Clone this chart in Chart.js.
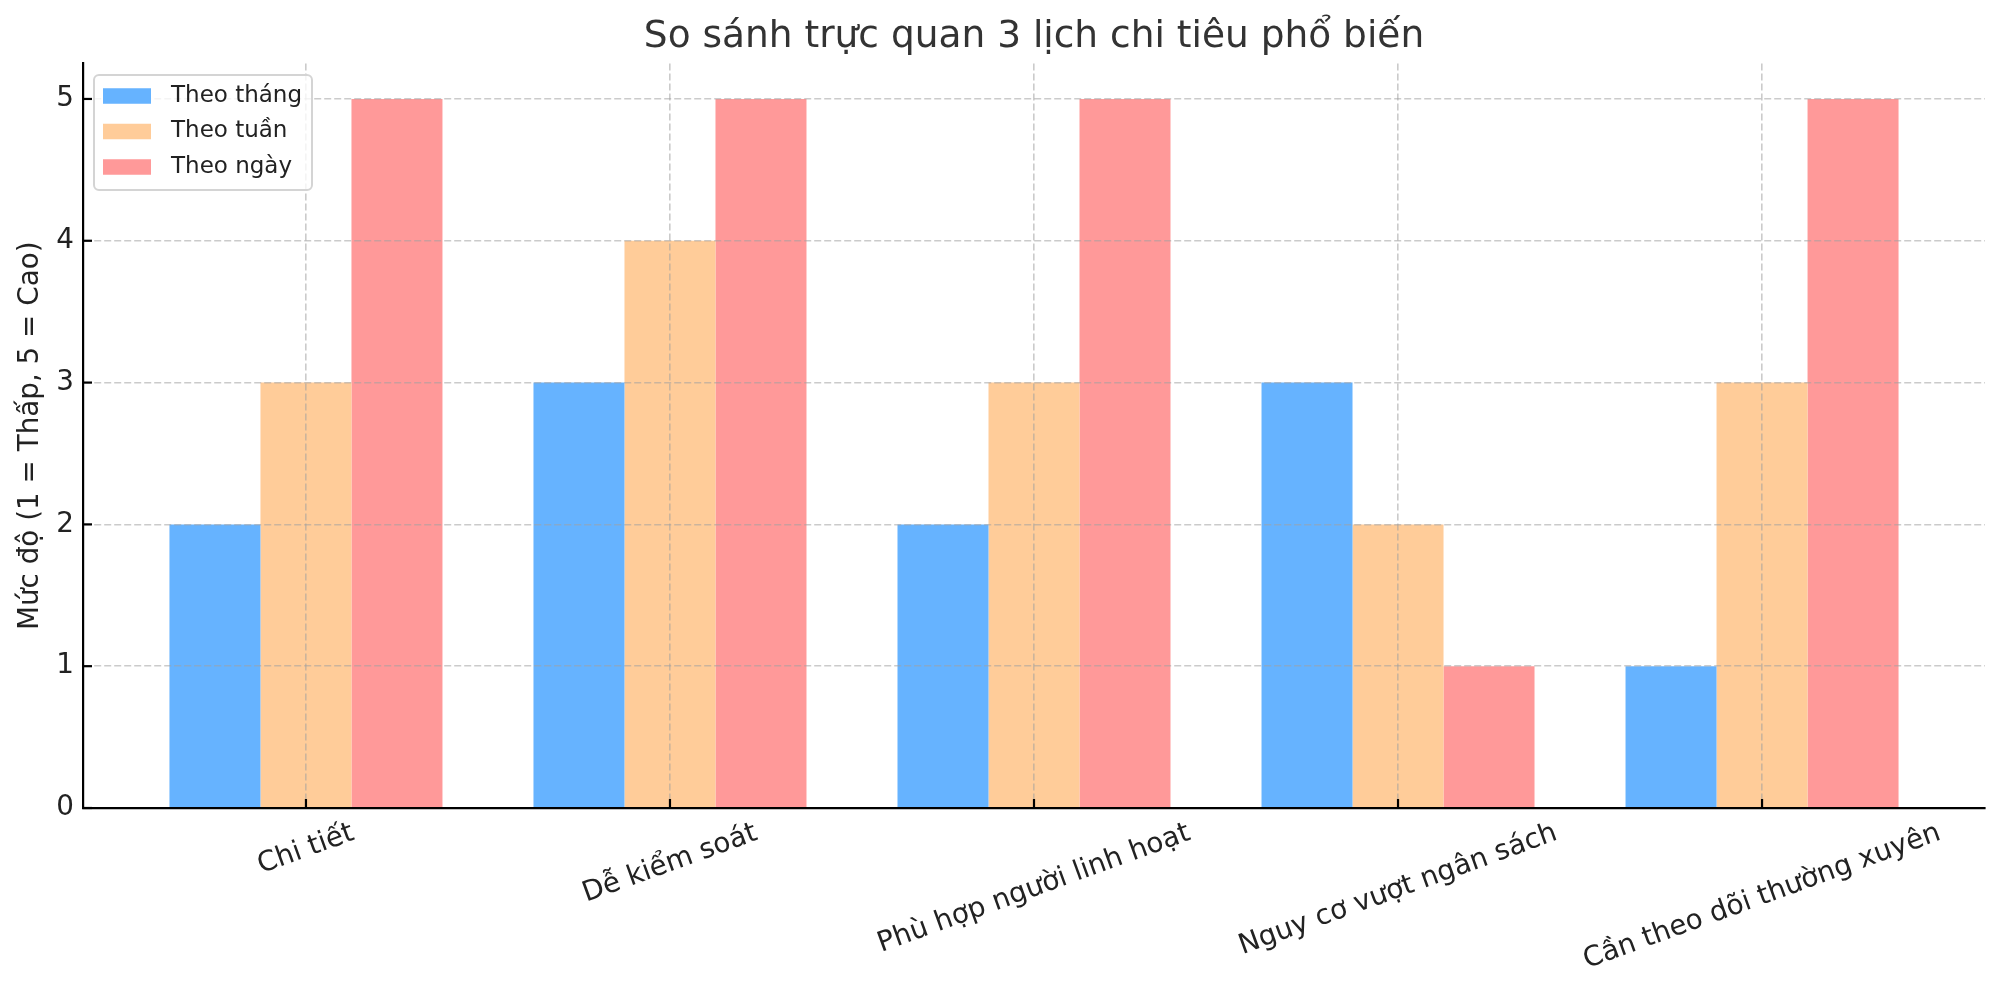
<!DOCTYPE html>
<html>
<head>
<meta charset="utf-8">
<script src="https://cdn.jsdelivr.net/npm/chart.js@4.4.1/dist/chart.umd.min.js"></script>
<style>
  html, body { margin: 0; padding: 0; background: #fff; }
  #wrap { width: 2000px; height: 992px; }
</style>
</head>
<body>
<div id="wrap"><canvas id="bar-chart" width="2000" height="992"></canvas></div>
<script>
var categories = ["Chi tiết", "Dễ kiểm soát", "Phù hợp người linh hoạt", "Nguy cơ vượt ngân sách", "Cần theo dõi thường xuyên"];
var seriesNames = ["Theo tháng", "Theo tuần", "Theo ngày"];
var theoThang = [2, 3, 2, 3, 1];
var theoTuan  = [3, 4, 3, 2, 3];
var theoNgay  = [5, 5, 5, 1, 5];

var FONT = "'DejaVu Sans', sans-serif";
var TEXT = '#222';
var GRID = 'rgba(160,160,160,0.55)';
var colors = ['#66b3ff', '#ffcc99', '#ff9999'];

function toPoints(values) {
  return values.map(function (v, i) { return { x: i, y: v }; });
}

// axis limits like matplotlib's 5% margins
var n = categories.length;
var xPad = 0.05 * (n - 1 + 0.75);
var yMax = Math.max.apply(null, theoThang.concat(theoTuan, theoNgay)) * 1.05;

// inward tick marks, rotated category labels, framed legend
var extras = {
  id: 'extras',
  afterDraw: function (chart) {
    var ctx = chart.ctx, area = chart.chartArea;
    var xs = chart.scales.x, ys = chart.scales.y;
    ctx.save();

    ctx.strokeStyle = '#000';
    ctx.lineWidth = 2.2;
    ys.ticks.forEach(function (t) {
      var y = ys.getPixelForValue(t.value);
      ctx.beginPath(); ctx.moveTo(area.left, y); ctx.lineTo(area.left + 9, y); ctx.stroke();
    });
    xs.ticks.forEach(function (t) {
      var x = xs.getPixelForValue(t.value);
      ctx.beginPath(); ctx.moveTo(x, area.bottom); ctx.lineTo(x, area.bottom - 9); ctx.stroke();
    });

    // x labels, rotated 20deg and centred under the tick
    var f = 27.8, ang = 20 * Math.PI / 180;
    ctx.font = f + 'px ' + FONT;
    ctx.fillStyle = TEXT;
    ctx.textAlign = 'center';
    ctx.textBaseline = 'middle';
    categories.forEach(function (lab, i) {
      var w = ctx.measureText(lab).width, h = f * 1.17;
      var H = w * Math.sin(ang) + h * Math.cos(ang);
      ctx.save();
      ctx.translate(xs.getPixelForValue(i), area.bottom + 9 + H / 2);
      ctx.rotate(-ang);
      ctx.fillText(lab, 0, 0);
      ctx.restore();
    });

    // legend box
    var bx = area.left + 11, by = area.top + 11.5, bw = 218, bh = 115;
    ctx.beginPath();
    ctx.roundRect(bx, by, bw, bh, 5);
    ctx.fillStyle = 'rgba(255,255,255,0.8)';
    ctx.fill();
    ctx.strokeStyle = '#d4d4d4';
    ctx.lineWidth = 2;
    ctx.stroke();
    ctx.font = '23px ' + FONT;
    ctx.textAlign = 'left';
    chart.data.datasets.forEach(function (ds, i) {
      var cy = by + 21 + i * 35.5;
      ctx.fillStyle = ds.backgroundColor;
      ctx.fillRect(bx + 9, cy - 7.75, 48, 15.5);
      ctx.fillStyle = TEXT;
      ctx.fillText(ds.label, bx + 77, cy);
    });

    ctx.restore();
  }
};

new Chart(document.getElementById('bar-chart'), {
  type: 'bar',
  data: {
    datasets: [
      { label: seriesNames[0], data: toPoints(theoThang), backgroundColor: colors[0] },
      { label: seriesNames[1], data: toPoints(theoTuan), backgroundColor: colors[1] },
      { label: seriesNames[2], data: toPoints(theoNgay), backgroundColor: colors[2] }
    ]
  },
  options: {
    responsive: false,
    animation: false,
    devicePixelRatio: 1,
    layout: { padding: { left: 0, right: 15, top: 0, bottom: 0 } },
    datasets: { bar: { categoryPercentage: 0.75, barPercentage: 1.0, borderWidth: 0 } },
    plugins: {
      legend: { display: false },
      tooltip: { enabled: false },
      title: {
        display: true,
        text: 'So sánh trực quan 3 lịch chi tiêu phổ biến',
        fullSize: false,
        color: '#333',
        font: { family: FONT, size: 37.5, weight: 'normal' },
        padding: { top: 15, bottom: 3.5 }
      }
    },
    scales: {
      x: {
        type: 'linear',
        offset: false,
        min: -0.375 - xPad,
        max: n - 1 + 0.375 + xPad,
        afterBuildTicks: function (s) {
          s.ticks = categories.map(function (c, i) { return { value: i }; });
        },
        afterFit: function (s) { s.height = 184; },
        ticks: { display: false },
        grid: { color: GRID, lineWidth: 1.6, z: 1, drawTicks: false, offset: false },
        border: { display: true, color: '#000', width: 2.2, dash: [7, 3], z: 2 }
      },
      y: {
        min: 0,
        max: yMax,
        afterFit: function (s) { s.width = 83; },
        ticks: { stepSize: 1, includeBounds: false, color: TEXT, font: { family: FONT, size: 27.8 }, padding: 9 },
        grid: { color: GRID, lineWidth: 1.6, z: 1, drawTicks: false },
        border: { display: true, color: '#000', width: 2.2, dash: [7, 3], z: 2 },
        title: {
          display: true,
          text: 'Mức độ (1 = Thấp, 5 = Cao)',
          color: TEXT,
          font: { family: FONT, size: 27.8 },
          padding: { top: 14, bottom: 0 }
        }
      }
    }
  },
  plugins: [extras]
});
</script>
</body>
</html>
